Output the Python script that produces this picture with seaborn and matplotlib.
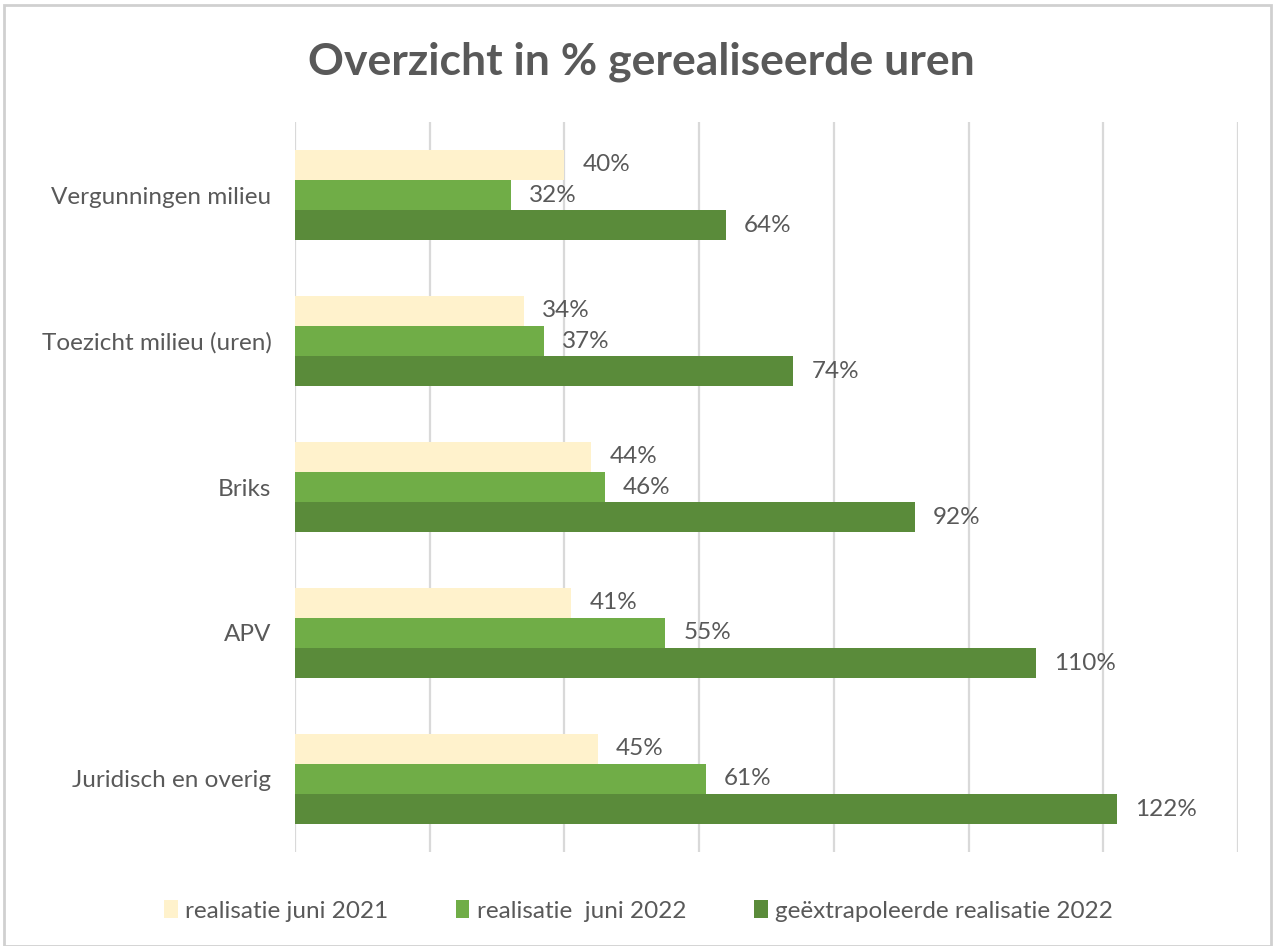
import pandas as pd
import seaborn as sns
import matplotlib.pyplot as plt
from matplotlib.patches import Rectangle, Patch

categories = ["Vergunningen milieu", "Toezicht milieu (uren)", "Briks", "APV", "Juridisch en overig"]
series_names = ["realisatie juni 2021", "realisatie  juni 2022", "geëxtrapoleerde realisatie 2022"]
real_2021 = [40, 34, 44, 41, 45]
real_2022 = [32, 37, 46, 55, 61]
extrap_2022 = [64, 74, 92, 110, 122]
colors = ["#FFF2CC", "#70AD47", "#5A8B3A"]

df = pd.DataFrame({
    "categorie": categories * 3,
    "reeks": [series_names[0]] * 5 + [series_names[1]] * 5 + [series_names[2]] * 5,
    "waarde": real_2021 + real_2022 + extrap_2022,
})

sns.set_theme(style="white")
plt.rcParams["font.family"] = ["Lato", "DejaVu Sans"]
text_color = "#595959"

fig = plt.figure(figsize=(12.77, 9.46), dpi=100)
ax = fig.add_axes([0.231, 0.0994, 0.7385, 0.7716])

sns.barplot(data=df, y="categorie", x="waarde", hue="reeks", orient="h",
            order=categories, hue_order=series_names, palette=colors,
            width=0.62, gap=0, saturation=1, legend=False, linewidth=0, ax=ax)

for cont in ax.containers:
    ax.bar_label(cont, labels=[f"{int(b.get_width())}%" for b in cont],
                 padding=13, color=text_color, fontsize=17.5)

ax.set_xlim(0, 140)
ax.set_xticks(range(0, 141, 20))
ax.set_xticklabels([])
ax.grid(axis="x", color="#D9D9D9", linewidth=1.6)
ax.set_axisbelow(True)
ax.tick_params(axis="y", length=0, pad=17, labelsize=17.5, labelcolor=text_color)
ax.tick_params(axis="x", length=0)
ax.set_xlabel("")
ax.set_ylabel("")
sns.despine(ax=ax, left=True, bottom=True)

fig.text(0.502, 0.935, "Overzicht in % gerealiseerde uren", ha="center", va="center",
         fontsize=32, fontweight="bold", color=text_color)

handles = [Patch(facecolor=c, edgecolor="none") for c in colors]
fig.legend(handles, series_names, loc="center", bbox_to_anchor=(0.5, 0.037), ncol=3,
           frameon=False, fontsize=17.5, labelcolor=text_color, handlelength=0.55,
           handleheight=0.75, handletextpad=0.3, columnspacing=2.8)

fig.patches.append(Rectangle((0.003, 0.0), 0.992, 0.995, transform=fig.transFigure,
                             fill=False, edgecolor="#D0D0D0", linewidth=2))

fig.savefig("out.png", dpi=100)
